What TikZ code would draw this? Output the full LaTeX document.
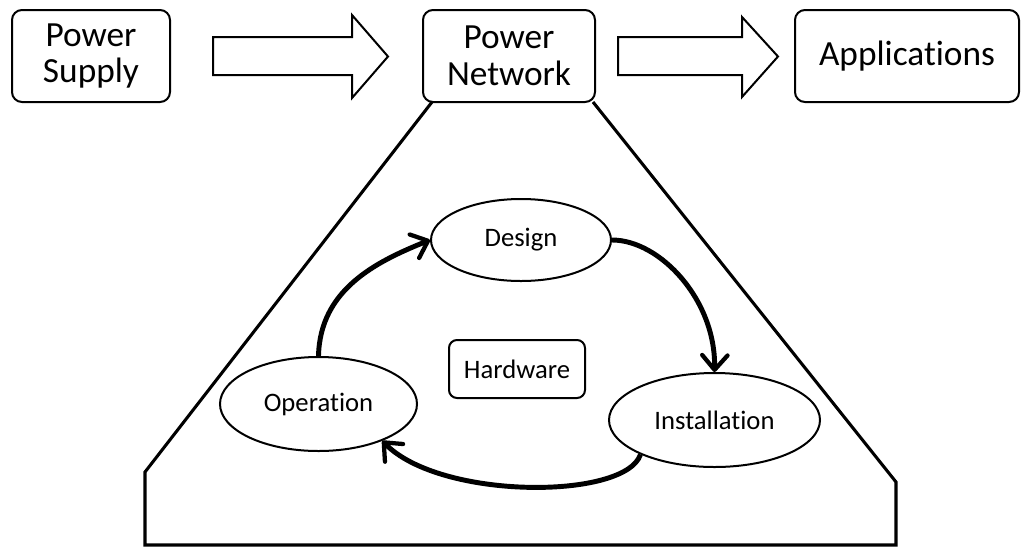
\documentclass[tikz,border=0pt]{standalone}
\usepackage{fontspec}
\setmainfont{Carlito}[Ligatures=NoCommon]
\usetikzlibrary{arrows.meta,shapes.geometric}

\tikzset{every picture/.style={line width=0.75pt}}
\tikzset{
  topbox/.style={draw, rounded corners=7.5pt, line width=1.5pt, inner sep=0pt, align=center, minimum height=69pt, font=\fontsize{26.5}{27.5}\selectfont},
  stagenode/.style={draw, ellipse, line width=1.5pt, inner sep=0pt, font=\fontsize{20}{24}\selectfont},
  cyclearrow/.style={line width=3.7pt, -{Straight Barb[length=11pt,width=19pt,line width=3.2pt,round]}},
  blockarrow/.style={line width=1.5pt, line join=miter},
}

\begin{document}
\begin{tikzpicture}[x=0.75pt,y=0.75pt,yscale=-1,xscale=1]
\useasboundingbox (0,0) rectangle (1023,547);

%Shape: Trapezoid
\draw [line width=2.3pt, line join=miter] (432,102) -- (145,472) -- (145,545) -- (896,545) -- (896,482) -- (593,102) ;

%Shape: Right Arrow
\draw [blockarrow] (213,37) -- (352,37) -- (352,15) -- (388,56.5) -- (352,98) -- (352,75) -- (213,75) -- cycle ;
%Shape: Right Arrow
\draw [blockarrow] (618,37) -- (742,37) -- (742,17) -- (778,56.5) -- (742,97) -- (742,75) -- (618,75) -- cycle ;

% Text Node
\node [topbox, minimum width=118.5pt] (supply) at (91,56) {Power\\Supply};
% Text Node
\node [topbox, minimum width=129pt] (network) at (509,56) {Power\\Network};
% Text Node
\node [topbox, minimum width=168pt] (apps) at (907,56) {Applications};

%Shape: Ellipse
\node [stagenode, minimum width=135pt, minimum height=61.5pt] (design) at (521,240) {Design};
%Shape: Ellipse
\node [stagenode, minimum width=147.75pt, minimum height=70.5pt] (operation) at (318.5,404) {Operation};
%Shape: Ellipse
\node [stagenode, minimum width=158.25pt, minimum height=70.5pt] (install) at (714.5,420) {Installation};
% Text Node
\node [draw, rounded corners=6pt, line width=1.5pt, inner sep=0pt, minimum width=102pt, minimum height=43.5pt, font=\fontsize{20}{24}\selectfont] (hardware) at (517,369) {Hardware};

%Curve Lines
\draw [cyclearrow] (operation.north) .. controls (320,290) and (375,262) .. (design.west) ;
%Curve Lines
\draw [cyclearrow] (design.east) .. controls (660,240) and (716,300) .. (install.north) ;
%Curve Lines
\draw [cyclearrow] (install.205) .. controls (625,500) and (440,500) .. (operation.330) ;

\end{tikzpicture}
\end{document}
